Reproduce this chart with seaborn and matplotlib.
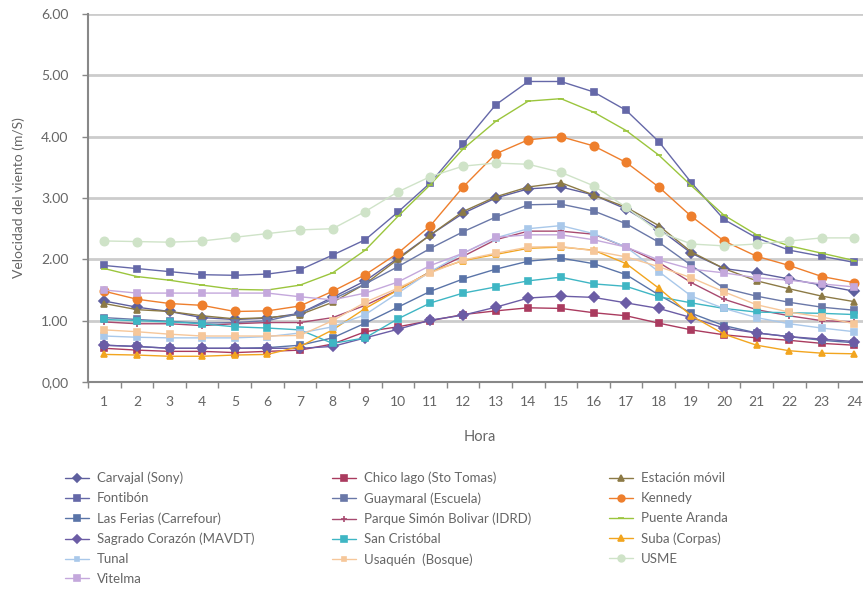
import matplotlib
matplotlib.use("Agg")
import matplotlib.pyplot as plt
import pandas as pd
import seaborn as sns

horas = list(range(1, 25))

carvajal = [1.32, 1.22, 1.15, 1.05, 1.02, 1.04, 1.12, 1.38, 1.65, 2.02, 2.40, 2.75,
            3.00, 3.15, 3.18, 3.05, 2.82, 2.50, 2.10, 1.85, 1.78, 1.68, 1.58, 1.48]
chico_lago = [0.55, 0.52, 0.50, 0.50, 0.48, 0.50, 0.52, 0.62, 0.82, 0.90, 1.00, 1.10,
              1.16, 1.21, 1.20, 1.13, 1.08, 0.96, 0.85, 0.77, 0.72, 0.68, 0.63, 0.60]
estacion_movil = [1.28, 1.18, 1.15, 1.08, 1.03, 1.05, 1.10, 1.30, 1.60, 2.00, 2.40, 2.78,
                  3.02, 3.18, 3.25, 3.05, 2.85, 2.55, 2.12, 1.85, 1.65, 1.52, 1.40, 1.31]
fontibon = [1.90, 1.85, 1.80, 1.75, 1.74, 1.76, 1.83, 2.07, 2.32, 2.77, 3.25, 3.88,
            4.52, 4.90, 4.90, 4.73, 4.43, 3.92, 3.25, 2.65, 2.35, 2.15, 2.05, 1.95]
guaymaral = [1.05, 1.02, 0.99, 0.96, 0.97, 1.00, 1.12, 1.35, 1.60, 1.88, 2.18, 2.45,
             2.69, 2.89, 2.90, 2.79, 2.58, 2.28, 1.90, 1.53, 1.40, 1.30, 1.22, 1.17]
kennedy = [1.48, 1.35, 1.28, 1.25, 1.15, 1.16, 1.24, 1.48, 1.75, 2.10, 2.55, 3.18,
           3.72, 3.95, 4.00, 3.85, 3.58, 3.18, 2.70, 2.30, 2.05, 1.90, 1.72, 1.62]
las_ferias = [0.60, 0.58, 0.55, 0.55, 0.55, 0.56, 0.60, 0.72, 0.96, 1.22, 1.48, 1.68,
              1.84, 1.97, 2.02, 1.93, 1.75, 1.42, 1.12, 0.92, 0.80, 0.74, 0.68, 0.64]
parque_simon_bolivar = [0.98, 0.95, 0.95, 0.92, 0.95, 0.97, 0.97, 1.05, 1.25, 1.50, 1.80, 2.05,
                        2.32, 2.46, 2.46, 2.41, 2.20, 1.95, 1.62, 1.35, 1.18, 1.08, 1.00, 0.98]
puente_aranda = [1.85, 1.72, 1.66, 1.58, 1.51, 1.50, 1.58, 1.78, 2.15, 2.70, 3.22, 3.80,
                 4.25, 4.58, 4.62, 4.40, 4.10, 3.70, 3.20, 2.72, 2.40, 2.22, 2.10, 1.98]
sagrado_corazon = [0.60, 0.58, 0.55, 0.55, 0.55, 0.55, 0.55, 0.58, 0.72, 0.86, 1.01, 1.09,
                   1.22, 1.37, 1.40, 1.38, 1.29, 1.20, 1.05, 0.88, 0.80, 0.74, 0.70, 0.66]
san_cristobal = [1.02, 1.00, 0.98, 0.95, 0.90, 0.88, 0.85, 0.63, 0.72, 1.03, 1.29, 1.45,
                 1.55, 1.65, 1.71, 1.60, 1.56, 1.39, 1.29, 1.20, 1.14, 1.13, 1.12, 1.10]
suba = [0.45, 0.44, 0.42, 0.42, 0.44, 0.45, 0.58, 0.85, 1.20, 1.50, 1.80, 1.98,
        2.08, 2.18, 2.20, 2.15, 1.93, 1.53, 1.08, 0.78, 0.60, 0.51, 0.47, 0.46]
tunal = [0.75, 0.73, 0.72, 0.72, 0.72, 0.74, 0.80, 0.90, 1.10, 1.45, 1.80, 2.10,
         2.35, 2.50, 2.55, 2.42, 2.20, 1.80, 1.40, 1.20, 1.05, 0.95, 0.88, 0.82]
usaquen = [0.85, 0.82, 0.78, 0.75, 0.75, 0.75, 0.76, 1.00, 1.30, 1.53, 1.78, 1.99,
           2.10, 2.20, 2.21, 2.14, 2.04, 1.88, 1.70, 1.47, 1.26, 1.14, 1.06, 0.95]
usme = [2.30, 2.29, 2.28, 2.30, 2.36, 2.42, 2.48, 2.50, 2.78, 3.10, 3.35, 3.52,
        3.57, 3.55, 3.42, 3.20, 2.85, 2.45, 2.25, 2.22, 2.25, 2.30, 2.35, 2.35]
vitelma = [1.50, 1.45, 1.45, 1.45, 1.45, 1.45, 1.39, 1.34, 1.45, 1.63, 1.90, 2.10,
           2.36, 2.40, 2.40, 2.32, 2.20, 1.99, 1.84, 1.78, 1.70, 1.66, 1.60, 1.55]

estaciones = ["Carvajal (Sony)", "Chico lago (Sto Tomas)", "Estación móvil",
              "Fontibón", "Guaymaral (Escuela)", "Kennedy",
              "Las Ferias (Carrefour)", "Parque Simón Bolivar (IDRD)", "Puente Aranda",
              "Sagrado Corazón (MAVDT)", "San Cristóbal", "Suba (Corpas)",
              "Tunal", "Usaquén  (Bosque)", "USME", "Vitelma"]
series = [carvajal, chico_lago, estacion_movil, fontibon, guaymaral, kennedy,
          las_ferias, parque_simon_bolivar, puente_aranda, sagrado_corazon,
          san_cristobal, suba, tunal, usaquen, usme, vitelma]
colores = ["#5e5f9e", "#aa3b5f", "#8c7a46", "#6568a8", "#6a78a8", "#ee7f2d",
           "#5a74a8", "#a84a70", "#9bc53d", "#6b5ca5", "#3fb6c4", "#f2a51f",
           "#a9c8ea", "#f6c79a", "#cfe3c8", "#c4a8dc"]
marcadores = ["D", "s", "^", "s", "s", "o", "s", "+", "_", "D", "s", "^",
              "s", "s", "o", "s"]

rows = []
for nombre, vals in zip(estaciones, series):
    for h, v in zip(horas, vals):
        rows.append({"estacion": nombre, "hora": h, "velocidad": v})
df = pd.DataFrame(rows)

sns.set_theme(style="white")
plt.rcParams["font.family"] = ["Lato", "DejaVu Sans"]

fig = plt.figure(figsize=(8.63, 5.89), dpi=100)
ax = fig.add_axes([0.102, 0.3514, 0.907, 0.6248])

for nombre, color, marker in zip(estaciones, colores, marcadores):
    sub = df[df["estacion"] == nombre]
    ms = 6 if marker == "o" else 5
    if nombre in ("Tunal", "Usaquén  (Bosque)"):
        ms = 4
    sns.lineplot(data=sub, x="hora", y="velocidad", ax=ax, color=color,
                 marker=marker, markersize=ms, markeredgecolor=color,
                 markeredgewidth=1.2, linewidth=1.0, label=nombre)

gris = "#666666"
ax.set_xlim(0.5, 24.5)
ax.set_ylim(0, 6)
ax.set_yticks([0, 1, 2, 3, 4, 5, 6])
ax.set_yticklabels(["0,00", "1.00", "2.00", "3.00", "4.00", "5.00", "6.00"])
ax.set_xticks(horas)
ax.set_xticks([h + 0.5 for h in range(0, 25)], minor=True)
ax.tick_params(axis="x", which="major", length=0, pad=10, labelsize=10, colors=gris)
ax.tick_params(axis="x", which="minor", length=4, width=1, color="#888888",
               direction="out", bottom=True)
ax.tick_params(axis="y", length=4, width=1, color="#888888", left=True,
               labelsize=10, colors=gris, pad=10)
ax.yaxis.grid(True, color="#cccccc", linewidth=2)
ax.set_axisbelow(True)
for s in ("top", "right"):
    ax.spines[s].set_visible(False)
for s in ("left", "bottom"):
    ax.spines[s].set_color("#888888")
    ax.spines[s].set_linewidth(1.5)

ax.set_xlabel("Hora", fontsize=10.5, color=gris, labelpad=16)
ax.set_ylabel("Velocidad del viento (m/S)", fontsize=10, color=gris, labelpad=12)

handles, labels = ax.get_legend_handles_labels()
ax.get_legend().remove()
# legend is read row by row in the reference: reorder for column filling
orden = [0, 3, 6, 9, 12, 15, 1, 4, 7, 10, 13, 2, 5, 8, 11, 14]
fig.legend([handles[i] for i in orden], [labels[i] for i in orden],
           loc="upper left", bbox_to_anchor=(0.062, 0.219), ncol=3,
           frameon=False, fontsize=9.5, labelcolor=gris, handlelength=1.8,
           markerscale=0.8, columnspacing=5.9, labelspacing=0.6,
           handletextpad=0.6)

fig.savefig("out.png", dpi=100)
